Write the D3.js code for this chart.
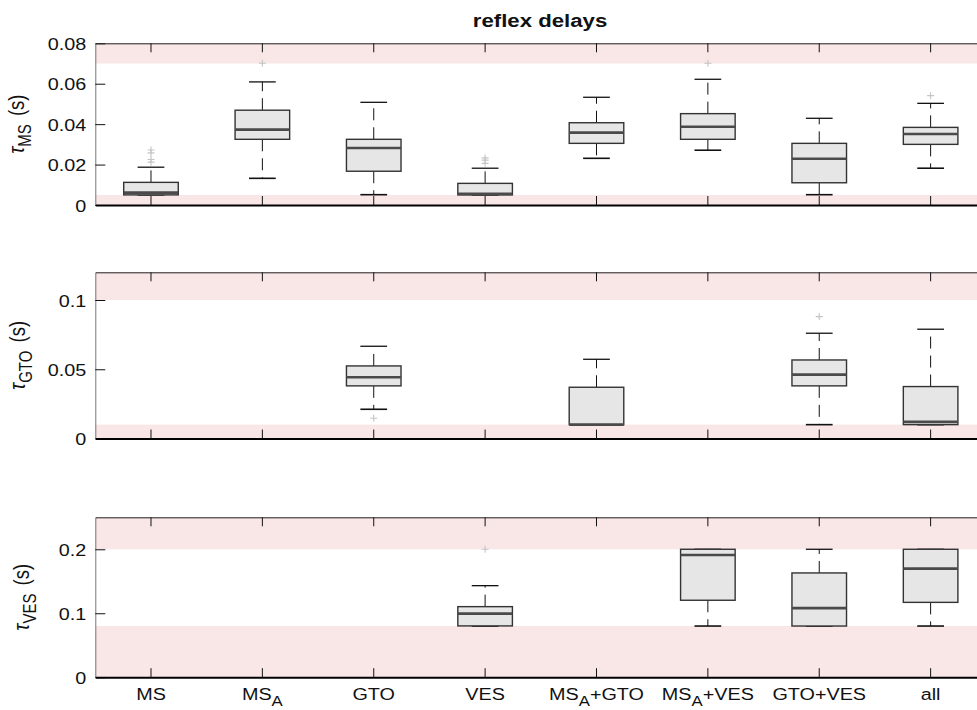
<!DOCTYPE html>
<html><head><meta charset="utf-8">
<script src="https://cdn.jsdelivr.net/npm/d3@7"></script>
<style>body{margin:0;background:#fff} text{font-family:"Liberation Sans",Arial,Helvetica,sans-serif;fill:#111}</style>
</head><body><svg id="c" width="977" height="710"></svg>
<script>
// ---------------- data ----------------
const categories = ["MS","MS_A","GTO","VES","MS_A+GTO","MS_A+VES","GTO+VES","all"];
// each entry: [lowerWhisker, q1, median, q3, upperWhisker]; null = no box
const tauMsStats = [
  [0.005, 0.005, 0.0061, 0.0112, 0.0187],
  [0.0132, 0.0325, 0.0373, 0.0469, 0.0609],
  [0.0051, 0.0167, 0.0282, 0.0325, 0.0508],
  [0.005, 0.005, 0.0055, 0.0107, 0.0182],
  [0.0231, 0.0305, 0.0358, 0.0407, 0.0533],
  [0.0271, 0.0325, 0.0387, 0.0452, 0.0622],
  [0.0051, 0.011, 0.0229, 0.0305, 0.0429],
  [0.0182, 0.0300, 0.0351, 0.0384, 0.0503]
];
const tauMsOutliers = [[0.0272, 0.0258, 0.0225, 0.0212], [0.0701], [], [0.0233, 0.0222, 0.0206], [], [0.0701], [], [0.0541]];
const tauGtoStats = [
  null, null,
  [0.0211, 0.0380, 0.0442, 0.0524, 0.0666],
  null,
  [0.010, 0.010, 0.010, 0.0370, 0.0572],
  null,
  [0.010, 0.0380, 0.0461, 0.0567, 0.0760],
  [0.010, 0.010, 0.0120, 0.0375, 0.0789]
];
const tauGtoOutliers = [[], [], [0.0146], [], [], [], [0.0880], []];
const tauVesStats = [
  null, null, null,
  [0.080, 0.0802, 0.0994, 0.1103, 0.1431],
  null,
  [0.080, 0.1203, 0.1910, 0.200, 0.200],
  [0.080, 0.080, 0.1080, 0.1630, 0.200],
  [0.080, 0.1170, 0.1697, 0.200, 0.200]
];
const tauVesOutliers = [[], [], [], [0.200], [], [], [], []];

const tauMsTicks = [0, 0.02, 0.04, 0.06, 0.08];
const tauMsTickLabels = ["0", "0.02", "0.04", "0.06", "0.08"];
const tauGtoTicks = [0, 0.05, 0.1];
const tauGtoTickLabels = ["0", "0.05", "0.1"];
const tauVesTicks = [0, 0.1, 0.2];
const tauVesTickLabels = ["0", "0.1", "0.2"];

const tauMsDomain = [0, 0.08], tauGtoDomain = [0, 0.12], tauVesDomain = [0, 0.25];
// out-of-range shading bands [from, to]
const tauMsBands = [[0, 0.005], [0.07, 0.08]];
const tauGtoBands = [[0, 0.01], [0.1, 0.12]];
const tauVesBands = [[0, 0.08], [0.2, 0.25]];

// ---------------- layout ----------------
const SX = 1.2; // horizontal text stretch
const svg = d3.select("#c");
const left = 95.3, right = 986.3;
const x = d3.scaleBand().domain(categories).range([left, right]).padding(0);
const bw = x.bandwidth();
const cx = c => x(c) + bw / 2;
const boxW = 0.49 * bw, capW = 0.24 * bw;

const panels = [
  {top: 43.3, bottom: 205, domain: tauMsDomain, stats: tauMsStats, out: tauMsOutliers, ticks: tauMsTicks, tickLabels: tauMsTickLabels, bands: tauMsBands, sub: "MS", lx: 24},
  {top: 272.3, bottom: 438.5, domain: tauGtoDomain, stats: tauGtoStats, out: tauGtoOutliers, ticks: tauGtoTicks, tickLabels: tauGtoTickLabels, bands: tauGtoBands, sub: "GTO", lx: 25},
  {top: 517.3, bottom: 677.2, domain: tauVesDomain, stats: tauVesStats, out: tauVesOutliers, ticks: tauVesTicks, tickLabels: tauVesTickLabels, bands: tauVesBands, sub: "VES", lx: 29}
];

panels.forEach((p, pi) => {
  const y = d3.scaleLinear().domain(p.domain).range([p.bottom, p.top]);
  const g = svg.append("g");

  // bands
  g.selectAll("rect.band").data(p.bands).join("rect")
    .attr("x", left).attr("width", right - left)
    .attr("y", d => y(d[1])).attr("height", d => y(d[0]) - y(d[1]))
    .attr("fill", "#f9e6e6");

  const rows = categories.map((c, i) => ({c, s: p.stats[i], o: p.out[i]})).filter(r => r.s);
  const bx = g.selectAll("g.box").data(rows).join("g");
  // whiskers
  bx.append("line").attr("x1", d => cx(d.c)).attr("x2", d => cx(d.c))
    .attr("y1", d => y(d.s[3])).attr("y2", d => y(d.s[4]))
    .attr("stroke", "#111").attr("stroke-width", 1).attr("stroke-dasharray", "12,7");
  bx.append("line").attr("x1", d => cx(d.c)).attr("x2", d => cx(d.c))
    .attr("y1", d => y(d.s[1])).attr("y2", d => y(d.s[0]))
    .attr("stroke", "#111").attr("stroke-width", 1).attr("stroke-dasharray", "12,7");
  // caps
  [0, 4].forEach(k => {
    bx.append("line").attr("x1", d => cx(d.c) - capW / 2).attr("x2", d => cx(d.c) + capW / 2)
      .attr("y1", d => y(d.s[k])).attr("y2", d => y(d.s[k]))
      .attr("stroke", "#111").attr("stroke-width", k === 0 ? 1.6 : 1.3);
  });
  // box
  bx.append("rect").attr("x", d => cx(d.c) - boxW / 2).attr("width", boxW)
    .attr("y", d => y(d.s[3])).attr("height", d => y(d.s[1]) - y(d.s[3]))
    .attr("fill", "#e6e6e6").attr("stroke", "#333").attr("stroke-width", 1.4);
  // median
  bx.append("line").attr("x1", d => cx(d.c) - boxW / 2).attr("x2", d => cx(d.c) + boxW / 2)
    .attr("y1", d => y(d.s[2])).attr("y2", d => y(d.s[2]))
    .attr("stroke", "#4a4a4a").attr("stroke-width", 2.6);
  // outliers
  const outs = [];
  categories.forEach((c, i) => p.out[i].forEach(v => outs.push({c, v})));
  g.selectAll("path.out").data(outs).join("path")
    .attr("d", d => `M${cx(d.c) - 3.5},${y(d.v)}h7M${cx(d.c)},${y(d.v) - 3.5}v7`)
    .attr("stroke", "#c4c4c4").attr("stroke-width", 1.1).attr("fill", "none");

  // axes
  const yAxis = d3.axisLeft(y).tickValues(p.ticks).tickFormat((d, i) => p.tickLabels[i])
    .tickSizeInner(-10).tickSizeOuter(0).tickPadding(9);
  const ya = g.append("g").attr("transform", `translate(${left},0)`).call(yAxis);
  ya.select(".domain").attr("stroke", "#777").attr("stroke-width", 1);
  ya.selectAll(".tick line").attr("stroke", "#111");
  ya.selectAll(".tick text").attr("x", 0).attr("dy", null)
    .attr("transform", `translate(-9,6) scale(${SX},1)`)
    .style("font-size", "16.5px").style("font-family", '"Liberation Sans",Arial,sans-serif').attr("fill", "#111");

  const ta = g.append("g").attr("transform", `translate(0,${p.top})`)
    .call(d3.axisTop(x).tickSizeInner(-9).tickSizeOuter(0).tickFormat(""));
  ta.select(".domain").attr("stroke", "#222").attr("stroke-width", 1);
  ta.selectAll(".tick line").attr("stroke", "#111");

  const ba = g.append("g").attr("transform", `translate(0,${p.bottom})`)
    .call(d3.axisBottom(x).tickSizeInner(-9).tickSizeOuter(0).tickFormat(""));
  ba.select(".domain").attr("stroke", "#000").attr("stroke-width", 2);
  ba.selectAll(".tick line").attr("stroke", "#111");

  // y label
  const cy = (p.top + p.bottom) / 2;
  const yl = svg.append("text").attr("text-anchor", "middle")
    .attr("transform", `translate(${p.lx},${cy}) scale(${SX},1) rotate(-90)`)
    .style("font-size", "18.5px");
  yl.append("tspan").text("τ").style("font-style", "italic").style("font-size", "19px");
  yl.append("tspan").text(p.sub).style("font-size", "15px").attr("dy", 5.5);
  yl.append("tspan").text(" (s)").attr("dy", -5.5).attr("dx", 3);

  // x labels on bottom panel
  if (pi === 2) {
    categories.forEach(c => {
      const t = svg.append("text").attr("text-anchor", "middle")
        .attr("transform", `translate(${cx(c)},700) scale(${SX},1)`)
        .style("font-size", "16.5px");
      const parts = c.split("_A");
      t.append("tspan").text(parts[0]);
      if (parts.length > 1) {
        t.append("tspan").text("A").style("font-size", "14px").attr("dy", 5.5);
        if (parts[1]) t.append("tspan").text(parts[1]).attr("dy", -5.5);
      }
    });
  }
});

// title
svg.append("text").attr("text-anchor", "middle")
  .attr("transform", `translate(540,27) scale(${SX},1)`)
  .style("font-size", "18.5px").style("font-weight", "bold").text("reflex delays");
</script></body></html>
